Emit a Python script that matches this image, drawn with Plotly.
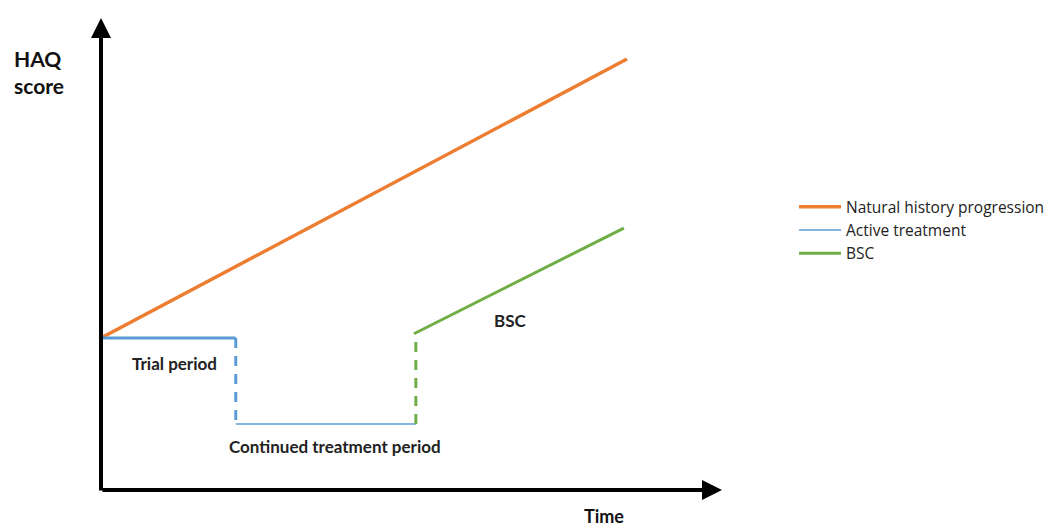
import plotly.graph_objects as go

# Schematic values (arbitrary units: time 0-10, HAQ 0-10)
natural_x = [0, 8.47]
natural_y = [3.22, 9.13]

trial_x = [0, 2.17]
trial_y = [3.22, 3.22]

drop_x = [2.17, 2.17]
drop_y = [3.22, 1.40]

continued_x = [2.17, 5.07]
continued_y = [1.40, 1.40]

bsc_jump_x = [5.07, 5.07]
bsc_jump_y = [1.40, 3.31]

bsc_x = [5.04, 8.42]
bsc_y = [3.31, 5.55]

ORANGE = "#ED7D31"
BLUE = "#5B9BD5"
GREEN = "#70AD47"
FONT = "Lato"

fig = go.Figure()

fig.add_trace(go.Scatter(x=natural_x, y=natural_y, mode="lines",
                         line=dict(color=ORANGE, width=3.5),
                         name="Natural history progression", legendgroup="n"))
fig.add_trace(go.Scatter(x=continued_x, y=continued_y, mode="lines",
                         line=dict(color=BLUE, width=1.5),
                         name="Active treatment", legendgroup="a"))
fig.add_trace(go.Scatter(x=trial_x, y=trial_y, mode="lines",
                         line=dict(color=BLUE, width=3),
                         name="Active treatment", legendgroup="a", showlegend=False))
fig.add_trace(go.Scatter(x=drop_x, y=drop_y, mode="lines",
                         line=dict(color=BLUE, width=3, dash="10px,8px"),
                         name="Active treatment", legendgroup="a", showlegend=False))
fig.add_trace(go.Scatter(x=bsc_x, y=bsc_y, mode="lines",
                         line=dict(color=GREEN, width=3),
                         name="BSC", legendgroup="b"))
fig.add_trace(go.Scatter(x=bsc_jump_x, y=bsc_jump_y, mode="lines",
                         line=dict(color=GREEN, width=3, dash="10px,8px"),
                         name="BSC", legendgroup="b", showlegend=False))

# Axis arrows
fig.add_annotation(x=1, y=0, xref="paper", yref="paper", ax=-621, ay=0,
                   showarrow=True, arrowhead=2, arrowsize=1, arrowwidth=4,
                   arrowcolor="black", text="")
fig.add_annotation(x=0, y=1, xref="paper", yref="paper", ax=0, ay=474,
                   showarrow=True, arrowhead=2, arrowsize=1, arrowwidth=4,
                   arrowcolor="black", text="")

label_font = dict(family=FONT, size=17, color="#222222")
fig.add_annotation(x=1.18, y=2.67, text="<b>Trial period</b>", showarrow=False, font=label_font)
fig.add_annotation(x=3.77, y=0.93, text="<b>Continued treatment period</b>", showarrow=False, font=label_font)
fig.add_annotation(x=6.60, y=3.60, text="<b>BSC</b>", showarrow=False, font=label_font)
fig.add_annotation(x=0.81, y=-0.0545, xref="paper", yref="paper", text="<b>Time</b>",
                   xanchor="center", yanchor="middle",
                   showarrow=False, font=dict(family=FONT, size=18, color="#111111"))
fig.add_annotation(x=-0.1433, y=0.886, xref="paper", yref="paper", text="<b>HAQ<br>score</b>",
                   showarrow=False, xanchor="left", yanchor="middle", align="left",
                   font=dict(family=FONT, size=21, color="#111111"))

fig.update_xaxes(range=[0, 10], visible=False, fixedrange=True)
fig.update_yaxes(range=[0, 10], visible=False, fixedrange=True)

fig.update_layout(
    width=1048, height=526,
    margin=dict(l=101, r=326, t=18, b=36, autoexpand=False),
    plot_bgcolor="white", paper_bgcolor="white",
    showlegend=True,
    legend=dict(x=1.116, y=0.635, xanchor="left", yanchor="top",
                font=dict(family="Open Sans", size=15.5, color="#222222"),
                bgcolor="rgba(0,0,0,0)", tracegroupgap=0, itemwidth=42),
)

fig.write_html("out.html", config={"displayModeBar": False},
               post_script="document.body.style.margin='0';")
